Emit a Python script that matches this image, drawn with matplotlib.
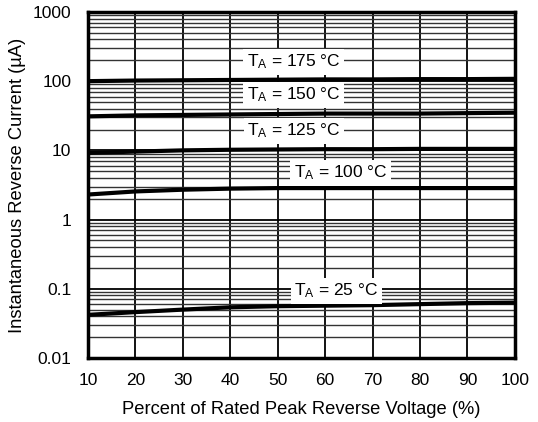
import matplotlib
matplotlib.use("Agg")
import matplotlib.pyplot as plt
from matplotlib.ticker import FixedLocator, NullFormatter, LogLocator

plt.rcParams['font.family'] = ['Liberation Sans', 'DejaVu Sans']
plt.rcParams['mathtext.default'] = 'regular'

# Reverse leakage vs. percent of rated voltage, one curve per ambient temperature
voltage_pct = [10, 20, 30, 40, 50, 60, 70, 80, 90, 100]
i_175 = [100, 102, 103, 104, 105, 106, 106, 107, 107, 108]
i_150 = [31, 32, 32.5, 33, 33.5, 34, 34, 34, 34.5, 35]
i_125 = [9.2, 9.6, 10.0, 10.2, 10.3, 10.4, 10.4, 10.5, 10.5, 10.5]
i_100 = [2.3, 2.55, 2.7, 2.8, 2.85, 2.85, 2.85, 2.85, 2.85, 2.85]
i_25 = [0.042, 0.046, 0.050, 0.054, 0.056, 0.057, 0.058, 0.060, 0.062, 0.063]

curves = [i_175, i_150, i_125, i_100, i_25]
labels = ["T$_A$ = 175 °C", "T$_A$ = 150 °C", "T$_A$ = 125 °C",
          "T$_A$ = 100 °C", "T$_A$ = 25 °C"]
label_pos = [(53.3, 189), (53.3, 63), (53.4, 19), (63.3, 4.7), (62.3, 0.093)]

y_ticks = [0.01, 0.1, 1, 10, 100, 1000]
y_tick_labels = ["0.01", "0.1", "1", "10", "100", "1000"]

fig = plt.figure(figsize=(5.38, 4.22), dpi=100)
ax = fig.add_axes([0.1636, 0.1517, 0.7935, 0.82])

ax.set_yscale('log')
ax.set_xlim(10, 100)
ax.set_ylim(0.01, 1000)
ax.set_xticks(voltage_pct)
ax.set_xticklabels([str(v) for v in voltage_pct], fontsize=12.5)
ax.yaxis.set_major_locator(FixedLocator(y_ticks))
ax.set_yticklabels(y_tick_labels, fontsize=12.5)
ax.yaxis.set_minor_locator(LogLocator(base=10, subs=range(2, 10)))
ax.yaxis.set_minor_formatter(NullFormatter())
ax.tick_params(which='both', length=0)
ax.tick_params(axis='y', pad=12)
ax.tick_params(axis='x', pad=11)

ax.grid(True, which='major', axis='both', color='black', linewidth=1.3)
ax.grid(True, which='minor', axis='y', color='#333333', linewidth=1.0)

for v in curves:
    ax.plot(voltage_pct, v, color='black', linewidth=3.0, solid_capstyle='butt', zorder=3)

for text, (x, y) in zip(labels, label_pos):
    ax.text(x, y, text, fontsize=12.5, ha='center', va='center', zorder=4,
            bbox=dict(facecolor='white', edgecolor='none', pad=2.5))

for sp in ax.spines.values():
    sp.set_linewidth(2.5)

ax.set_xlabel("Percent of Rated Peak Reverse Voltage (%)", fontsize=13.2, labelpad=9)
ax.set_ylabel("Instantaneous Reverse Current (µA)", fontsize=13.2, labelpad=5)

fig.savefig("out.png", dpi=100)
